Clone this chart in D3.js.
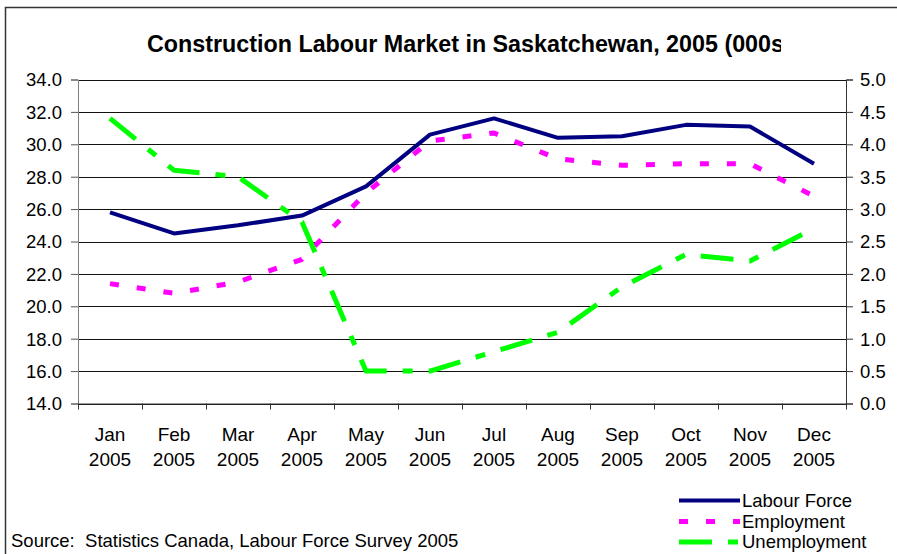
<!DOCTYPE html>
<html>
<head>
<meta charset="utf-8">
<script src="https://cdn.jsdelivr.net/npm/d3@7"></script>
<style>
  body { margin: 0; background: #fff; }
  text { font-family: Arial, "Liberation Sans", sans-serif; }
</style>
</head>
<body>
<script>
// values (thousands)
var months = ["Jan", "Feb", "Mar", "Apr", "May", "Jun", "Jul", "Aug", "Sep", "Oct", "Nov", "Dec"];
var year = "2005";
var labourForce = [25.8, 24.5, 25.0, 25.6, 27.4, 30.6, 31.6, 30.4, 30.5, 31.2, 31.1, 28.8];
var employment = [21.4, 20.8, 21.5, 22.9, 27.0, 30.2, 30.7, 29.1, 28.7, 28.8, 28.8, 26.8];
var unemployment = [4.4, 3.6, 3.5, 2.8, 0.5, 0.5, 0.8, 1.1, 1.8, 2.3, 2.2, 2.7];
var leftTicks = [14, 16, 18, 20, 22, 24, 26, 28, 30, 32, 34];
var rightTicks = [0, 0.5, 1, 1.5, 2, 2.5, 3, 3.5, 4, 4.5, 5];

var w = 897;
var h = 554;
var plotL = 78, plotR = 846, plotT = 79.5, plotB = 403.5;
var fs = "18.5px";

var svg = d3.select("body").append("svg").attr("width", w).attr("height", h);

// outer frame
svg.append("path")
  .attr("d", "M5.5," + h + "V7.5H" + w)
  .attr("fill", "none")
  .attr("stroke", "#333")
  .attr("stroke-width", 1.5);

// title, clipped like the original
svg.append("clipPath").attr("id", "titleclip")
  .append("rect").attr("x", 0).attr("y", 0).attr("width", 781).attr("height", 70);
svg.append("text")
  .attr("clip-path", "url(#titleclip)")
  .attr("x", 147)
  .attr("y", 52)
  .attr("font-size", "23.3px")
  .attr("font-weight", "bold")
  .attr("fill", "black")
  .text("Construction Labour Market in Saskatchewan, 2005 (000s)");

var x = d3.scaleBand().domain(months).range([plotL, plotR]);
var xEdge = d3.scaleLinear().domain([0, 12]).range([plotL, plotR]);
var yL = d3.scaleLinear().domain([14, 34]).range([plotB, plotT]);
var yR = d3.scaleLinear().domain([0, 5]).range([plotB, plotT]);

// gridlines
svg.append("g")
  .selectAll("line")
  .data(leftTicks)
  .enter()
  .append("line")
  .attr("x1", plotL)
  .attr("x2", plotR)
  .attr("y1", function (d) { return Math.round(yL(d)) + 0.5; })
  .attr("y2", function (d) { return Math.round(yL(d)) + 0.5; })
  .attr("stroke", "#111")
  .attr("stroke-width", 1);

// left axis
var gl = svg.append("g").attr("transform", "translate(" + plotL + ",0)")
  .call(d3.axisLeft(yL).tickValues(leftTicks).tickFormat(d3.format(".1f")).tickSize(7).tickPadding(9));
gl.select(".domain").attr("stroke", "#808080");
gl.selectAll(".tick line").attr("stroke", "#555");
gl.selectAll("text").attr("font-size", fs).attr("font-family", "Arial").attr("fill", "black").attr("dy", "0.35em");

// right axis
var gr = svg.append("g").attr("transform", "translate(" + plotR + ",0)")
  .call(d3.axisRight(yR).tickValues(rightTicks).tickFormat(d3.format(".1f")).tickSize(7).tickPadding(7));
gr.select(".domain").attr("stroke", "#333");
gr.selectAll(".tick line").attr("stroke", "#333");
gr.selectAll("text").attr("font-size", fs).attr("font-family", "Arial").attr("fill", "black").attr("dy", "0.35em");

// bottom axis: tick marks at category boundaries
var gb = svg.append("g").attr("transform", "translate(0," + plotB + ")")
  .call(d3.axisBottom(xEdge).ticks(12).tickFormat("").tickSize(6).tickSizeOuter(0));
gb.select(".domain").attr("stroke", "#333");
gb.selectAll(".tick line").attr("stroke", "#333");

// category labels (two lines)
var gx = svg.append("g").attr("transform", "translate(0," + plotB + ")")
  .call(d3.axisBottom(x).tickSize(0).tickPadding(0));
gx.select(".domain").remove();
gx.selectAll(".tick text").each(function (d) {
  var t = d3.select(this);
  t.text(null).attr("font-size", "19px").attr("font-family", "Arial").attr("fill", "black").attr("dy", null).attr("y", 0);
  t.append("tspan").attr("x", 0).attr("y", 37).text(d);
  t.append("tspan").attr("x", 0).attr("y", 62).text(year);
});

function cx(d, i) { return x(months[i]) + x.bandwidth() / 2; }

var series = [
  { name: "Labour Force", values: labourForce, scale: yL, color: "#000080", width: 4, dash: null },
  { name: "Employment", values: employment, scale: yL, color: "#ff00ff", width: 5, dash: "9,18" },
  { name: "Unemployment", values: unemployment, scale: yR, color: "#00ff00", width: 5, dash: "33,16,10,16" }
];

series.forEach(function (s) {
  var line = d3.line().x(cx).y(function (d) { return s.scale(d); });
  svg.append("path")
    .datum(s.values)
    .attr("d", line)
    .attr("fill", "none")
    .attr("stroke", s.color)
    .attr("stroke-width", s.width)
    .attr("stroke-dasharray", s.dash)
    .attr("stroke-linejoin", "round");
});

// legend
var legendY = [500.5, 521.5, 542];
series.forEach(function (s, i) {
  svg.append("line")
    .attr("x1", 679).attr("x2", 740)
    .attr("y1", legendY[i]).attr("y2", legendY[i])
    .attr("stroke", s.color)
    .attr("stroke-width", s.width)
    .attr("stroke-dasharray", s.dash);
  svg.append("text")
    .attr("x", 742)
    .attr("y", legendY[i])
    .attr("dy", "0.35em")
    .attr("font-size", fs)
    .attr("fill", "black")
    .text(s.name);
});

svg.append("text")
  .attr("x", 11)
  .attr("y", 547)
  .attr("font-size", fs)
  .attr("fill", "black")
  .attr("xml:space", "preserve")
  .style("white-space", "pre")
  .text("Source:  Statistics Canada, Labour Force Survey 2005");
</script>
</body>
</html>
